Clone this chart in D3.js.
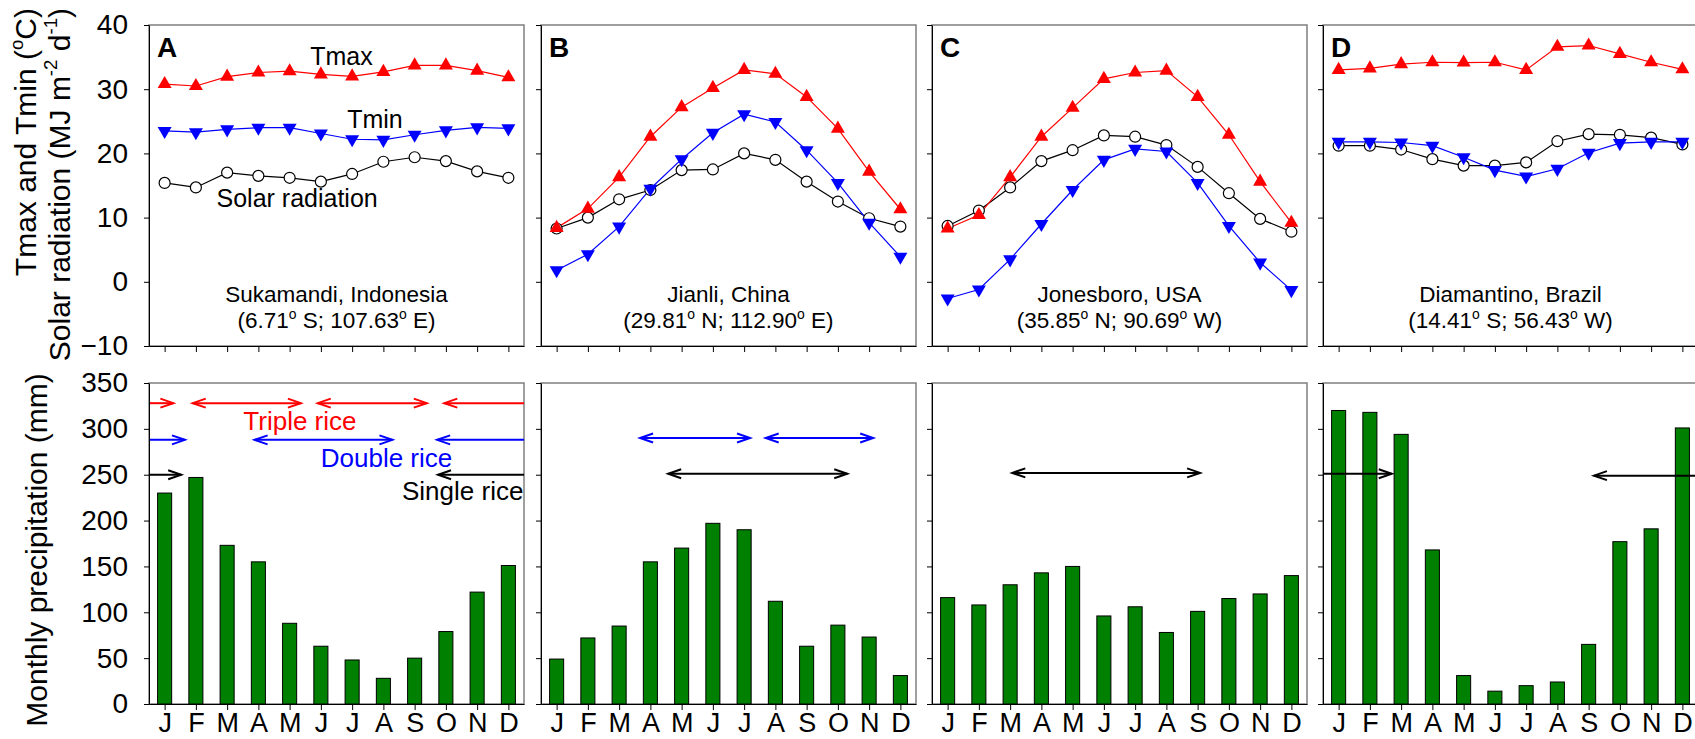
<!DOCTYPE html>
<html lang="en">
  <head>
    <meta charset="UTF-8" />
    <title>rice climate</title>
    <script src="https://cdn.jsdelivr.net/npm/d3@7/dist/d3.min.js"></script>
    <style>
      body { margin: 0; background: #fff; }
      svg { font-family: Arial, "Liberation Sans", sans-serif; }
      text { white-space: pre; }
    </style>
  </head>
  <body>
    <div id="wrapper"></div>
    <script>
      // month labels and site info
      const months = ["J", "F", "M", "A", "M", "J", "J", "A", "S", "O", "N", "D"];
      const panelLetters = ["A", "B", "C", "D"];
      const siteNames = ["Sukamandi, Indonesia", "Jianli, China", "Jonesboro, USA", "Diamantino, Brazil"];
      const latitudes = ["6.71", "29.81", "35.85", "14.41"];
      const latHemi = ["S", "N", "N", "S"];
      const longitudes = ["107.63", "112.90", "90.69", "56.43"];
      const lonHemi = ["E", "E", "W", "W"];

      const tempTicks = [-10, 0, 10, 20, 30, 40];
      const precipTicks = [0, 50, 100, 150, 200, 250, 300, 350];

      // Tmax, Tmin (oC), solar radiation (MJ m-2 d-1), precipitation (mm)
      const tmaxA = [30.8, 30.5, 31.95, 32.6, 32.8, 32.3, 32.0, 32.7, 33.7, 33.7, 32.9, 31.85];
      const tminA = [23.5, 23.3, 23.75, 24.0, 24.0, 23.1, 22.2, 22.1, 22.9, 23.6, 24.05, 23.9];
      const solarA = [15.4, 14.7, 17.0, 16.5, 16.2, 15.6, 16.8, 18.7, 19.4, 18.8, 17.2, 16.2];
      const precipA = [230, 247, 173, 155, 88, 63, 48, 28, 50, 79, 122, 151];

      const tmaxB = [8.4, 11.4, 16.3, 22.6, 27.2, 30.2, 33.0, 32.4, 28.8, 23.85, 17.15, 11.3];
      const tminB = [1.8, 4.3, 8.6, 14.5, 19.1, 23.2, 26.1, 24.9, 20.5, 15.4, 9.2, 3.9];
      const solarB = [8.3, 10.0, 12.85, 14.3, 17.4, 17.5, 20.0, 19.0, 15.6, 12.5, 9.9, 8.6];
      const precipB = [49, 72, 85, 155, 170, 197, 190, 112, 63, 86, 73, 31];

      const tmaxC = [8.3, 10.4, 16.3, 22.6, 27.1, 31.6, 32.6, 32.9, 28.8, 22.9, 15.6, 9.2];
      const tminC = [-2.6, -1.2, 3.5, 9.0, 14.3, 19.0, 20.7, 20.3, 15.4, 8.7, 3.0, -1.3];
      const solarC = [8.7, 11.1, 14.7, 18.8, 20.5, 22.8, 22.6, 21.3, 17.9, 13.8, 9.8, 7.8];
      const precipC = [116, 108, 130, 143, 150, 96, 106, 78, 101, 115, 120, 140];

      const tmaxD = [33.0, 33.25, 33.9, 34.2, 34.15, 34.2, 33.0, 36.6, 36.8, 35.5, 34.2, 33.1];
      const tminD = [21.8, 21.8, 21.7, 21.2, 19.4, 17.4, 16.4, 17.6, 20.1, 21.6, 21.8, 21.8];
      const solarD = [21.2, 21.2, 20.6, 19.1, 18.1, 18.1, 18.6, 21.9, 23.0, 22.9, 22.45, 21.4];
      const precipD = [320, 318, 294, 168, 31, 14, 20, 24, 65, 177, 191, 301];

      // rice seasons: [system, level (mm axis), start month, end month, heads]
      const riceA = [
        ["triple", 328, 0.5, 1.28, "end"],
        ["triple", 328, 1.9, 5.36, "both"],
        ["triple", 328, 5.9, 9.39, "both"],
        ["triple", 328, 9.95, 12.5, "start"],
        ["double", 288, 0.5, 1.65, "end"],
        ["double", 288, 3.88, 8.29, "both"],
        ["double", 288, 9.72, 12.5, "start"],
        ["single", 250, 0.5, 1.53, "end"],
        ["single", 250, 9.75, 12.5, "start"],
      ];
      const riceB = [
        ["double", 290, 3.67, 7.19, "both"],
        ["double", 290, 7.69, 11.13, "both"],
        ["single", 251, 4.57, 10.3, "both"],
      ];
      const riceC = [["single", 252, 3.07, 9.08, "both"]];
      const riceD = [
        ["single", 251, 0.5, 2.7, "end"],
        ["single", 249, 9.17, 12.6, "start"],
      ];

      const riceColor = { triple: "#ff0000", double: "#0000ff", single: "#000000" };

      const panels = [
        { tmax: tmaxA, tmin: tminA, solar: solarA, precip: precipA, rice: riceA },
        { tmax: tmaxB, tmin: tminB, solar: solarB, precip: precipB, rice: riceB },
        { tmax: tmaxC, tmin: tminC, solar: solarC, precip: precipC, rice: riceC },
        { tmax: tmaxD, tmin: tminD, solar: solarD, precip: precipD, rice: riceD },
      ];

      const dims = {
        width: 1695,
        height: 739,
        lefts: [149, 541, 932, 1323],
        panelWidth: 375,
        topY: [25, 346],
        botY: [383, 704],
      };

      const svg = d3
        .select("#wrapper")
        .append("svg")
        .attr("width", dims.width)
        .attr("height", dims.height);

      const yTemp = d3.scaleLinear().domain([-10, 40]).range([dims.topY[1], dims.topY[0]]);
      const yPrecip = d3.scaleLinear().domain([0, 350]).range([dims.botY[1], dims.botY[0]]);

      // text with superscript pieces
      function richText(sel, parts, size) {
        parts.forEach(([s, sup], i) => {
          const prevSup = i > 0 && parts[i - 1][1];
          let dy = 0;
          if (sup && !prevSup) dy = -0.42 * size;
          if (!sup && prevSup) dy = 0.42 * size;
          sel
            .append("tspan")
            .attr("dy", dy)
            .attr("font-size", sup ? size * 0.62 : size)
            .text(s);
        });
      }

      function frame(g, x0, x1, y0, y1) {
        g.append("rect")
          .attr("x", x0)
          .attr("y", y0)
          .attr("width", x1 - x0)
          .attr("height", y1 - y0)
          .attr("fill", "none")
          .attr("stroke", "#7f7f7f")
          .attr("stroke-width", 1.5);
      }

      function arrowHead(g, x, y, dir, color) {
        g.append("path")
          .attr("d", `M${x - dir * 13},${y - 4.5} L${x},${y} L${x - dir * 13},${y + 4.5}`)
          .attr("fill", "none")
          .attr("stroke", color)
          .attr("stroke-width", 2);
      }

      panels.forEach((p, i) => {
        const left = dims.lefts[i];
        const right = left + dims.panelWidth;
        const x = d3.scaleLinear().domain([0.5, 12.5]).range([left, right]);
        const g = svg.append("g");
        const idx = d3.range(12);

        // ---------- top panel ----------
        frame(g, left, right, dims.topY[0], dims.topY[1]);

        const yAxisTop = d3
          .axisLeft(yTemp)
          .tickValues(tempTicks)
          .tickSize(5)
          .tickSizeOuter(0)
          .tickPadding(16)
          .tickFormat(i === 0 ? d3.format("d") : () => "");
        g.append("g").attr("transform", `translate(${left},0)`).call(yAxisTop);

        const xAxisTop = d3
          .axisBottom(x)
          .tickValues(d3.range(1, 13))
          .tickSize(6)
          .tickSizeOuter(0)
          .tickFormat(() => "");
        g.append("g").attr("transform", `translate(0,${dims.topY[1]})`).call(xAxisTop);

        const line = (arr) =>
          d3
            .line()
            .x((d) => x(d + 1))
            .y((d) => yTemp(arr[d]))(idx);

        // solar radiation, Tmin, Tmax lines
        g.append("path").attr("d", line(p.solar)).attr("fill", "none").attr("stroke", "#000").attr("stroke-width", 1.2);
        g.append("path").attr("d", line(p.tmin)).attr("fill", "none").attr("stroke", "#0000ff").attr("stroke-width", 1.2);
        g.append("path").attr("d", line(p.tmax)).attr("fill", "none").attr("stroke", "#ff0000").attr("stroke-width", 1.2);

        const tri = d3.symbol(d3.symbolTriangle, 85);
        g.selectAll(null)
          .data(p.solar)
          .join("circle")
          .attr("cx", (d, j) => x(j + 1))
          .attr("cy", (d) => yTemp(d))
          .attr("r", 5.5)
          .attr("fill", "#fff")
          .attr("stroke", "#000")
          .attr("stroke-width", 1.2);
        g.selectAll(null)
          .data(p.tmin)
          .join("path")
          .attr("d", tri)
          .attr("transform", (d, j) => `translate(${x(j + 1)},${yTemp(d)}) rotate(180)`)
          .attr("fill", "#0000ff");
        g.selectAll(null)
          .data(p.tmax)
          .join("path")
          .attr("d", tri)
          .attr("transform", (d, j) => `translate(${x(j + 1)},${yTemp(d)})`)
          .attr("fill", "#ff0000");

        // panel letter
        g.append("text")
          .attr("x", left + 8)
          .attr("y", 57)
          .attr("font-size", 28)
          .attr("font-weight", "bold")
          .text(panelLetters[i]);

        // site
        const cx = (left + right) / 2;
        g.append("text")
          .attr("x", cx)
          .attr("y", 302)
          .attr("text-anchor", "middle")
          .attr("font-size", 22.5)
          .text(siteNames[i]);
        const coord = g
          .append("text")
          .attr("x", cx)
          .attr("y", 328)
          .attr("text-anchor", "middle");
        richText(
          coord,
          [
            ["(" + latitudes[i], false],
            ["o", true],
            [" " + latHemi[i] + "; " + longitudes[i], false],
            ["o", true],
            [" " + lonHemi[i] + ")", false],
          ],
          22.5
        );

        // ---------- bottom panel ----------
        frame(g, left, right, dims.botY[0], dims.botY[1]);

        const barW = (x(1.5) - x(0.5)) * 0.45;
        g.selectAll(null)
          .data(p.precip)
          .join("rect")
          .attr("x", (d, j) => x(j + 1) - barW / 2)
          .attr("y", (d) => yPrecip(d))
          .attr("width", barW)
          .attr("height", (d) => yPrecip(0) - yPrecip(d))
          .attr("fill", "#008000")
          .attr("stroke", "#000")
          .attr("stroke-width", 1);

        // rice season arrows
        const clipId = "clip" + i;
        svg
          .append("clipPath")
          .attr("id", clipId)
          .append("rect")
          .attr("x", left)
          .attr("y", dims.botY[0])
          .attr("width", dims.panelWidth)
          .attr("height", dims.botY[1] - dims.botY[0]);
        const ga = g.append("g").attr("clip-path", `url(#${clipId})`);
        p.rice.forEach(([sys, lvl, m0, m1, heads]) => {
          const col = riceColor[sys];
          const yy = yPrecip(lvl);
          ga.append("line")
            .attr("x1", x(m0))
            .attr("x2", x(m1))
            .attr("y1", yy)
            .attr("y2", yy)
            .attr("stroke", col)
            .attr("stroke-width", 2);
          if (heads === "end" || heads === "both") arrowHead(ga, x(m1), yy, 1, col);
          if (heads === "start" || heads === "both") arrowHead(ga, x(m0), yy, -1, col);
        });

        const yAxisBot = d3
          .axisLeft(yPrecip)
          .tickValues(precipTicks)
          .tickSize(5)
          .tickSizeOuter(0)
          .tickPadding(16)
          .tickFormat(i === 0 ? d3.format("d") : () => "");
        g.append("g").attr("transform", `translate(${left},0)`).call(yAxisBot);

        const xAxisBot = d3
          .axisBottom(x)
          .tickValues(d3.range(1, 13))
          .tickSize(6)
          .tickSizeOuter(0)
          .tickPadding(3)
          .tickFormat((d) => months[d - 1]);
        g.append("g").attr("class", "month-axis").attr("transform", `translate(0,${dims.botY[1]})`).call(xAxisBot);

        if (i === 0) {
          const lab = [
            ["Tmax", 6.66, 33.77],
            ["Tmin", 7.73, 23.96],
            ["Solar radiation", 5.24, 11.65],
          ];
          lab.forEach(([t, mx, v]) => {
            g.append("text")
              .attr("x", x(mx))
              .attr("y", yTemp(v))
              .attr("text-anchor", "middle")
              .attr("font-size", 25)
              .text(t);
          });
          const rl = [
            ["Triple rice", "triple", 5.33, 298.8, "middle"],
            ["Double rice", "double", 8.1, 258.4, "middle"],
            ["Single rice", "single", 12.48, 222.4, "end"],
          ];
          rl.forEach(([t, sys, mx, v, anchor]) => {
            g.append("text")
              .attr("x", x(mx))
              .attr("y", yPrecip(v))
              .attr("text-anchor", anchor)
              .attr("font-size", 26)
              .attr("fill", riceColor[sys])
              .text(t);
          });
        }
      });

      svg.selectAll(".tick text").attr("font-size", 28).attr("font-family", "Arial, 'Liberation Sans', sans-serif").attr("fill", "#000");
      svg.selectAll(".month-axis .tick text").attr("font-size", 27);
      svg.selectAll(".tick line").attr("stroke", "#000");
      svg.selectAll(".domain").attr("stroke", "#000");

      // y-axis titles
      const t1 = svg
        .append("text")
        .attr("transform", "translate(36,8) rotate(-90)")
        .attr("text-anchor", "end");
      richText(t1, [["Tmax and Tmin (", false], ["o", true], ["C)", false]], 30);
      const t2 = svg
        .append("text")
        .attr("transform", "translate(70,8) rotate(-90)")
        .attr("text-anchor", "end");
      richText(
        t2,
        [
          ["Solar radiation (MJ m", false],
          ["-2", true],
          [" d", false],
          ["-1", true],
          [")", false],
        ],
        30
      );
      svg
        .append("text")
        .attr("transform", "translate(47,550) rotate(-90)")
        .attr("text-anchor", "middle")
        .attr("font-size", 30)
        .text("Monthly precipitation (mm)");
    </script>
  </body>
</html>
